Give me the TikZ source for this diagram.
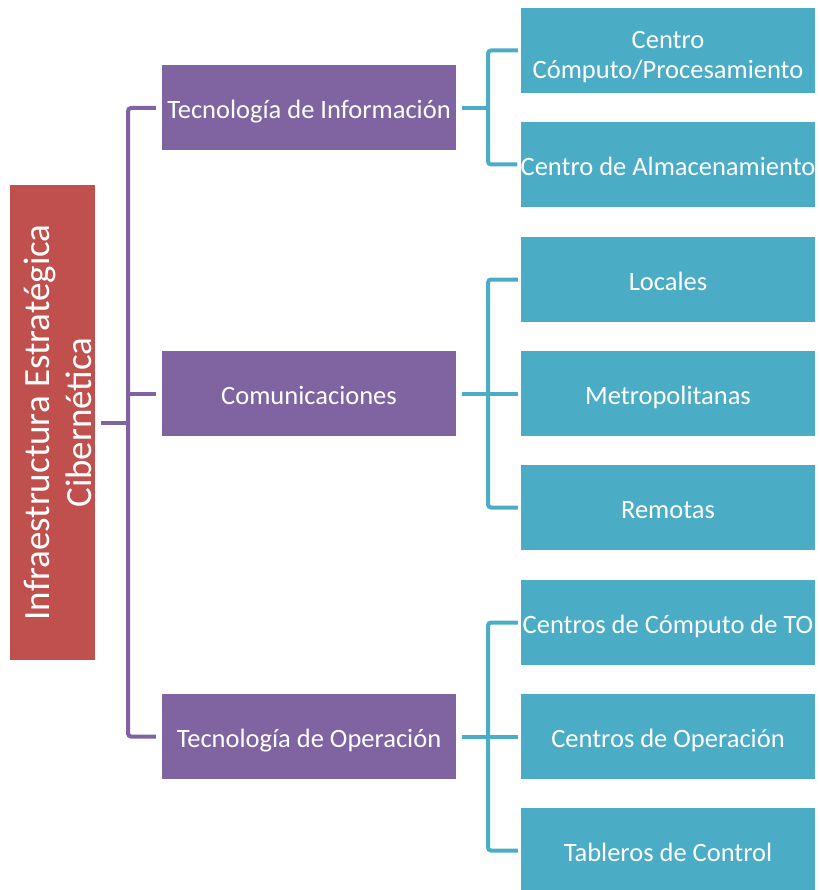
\documentclass[tikz,border=0pt]{standalone}
\usepackage{fontspec}
\setmainfont{Carlito}
\definecolor{rootred}{HTML}{C0504D}
\definecolor{purp}{HTML}{8064A2}
\definecolor{teal}{HTML}{4BACC6}
\begin{document}
\begin{tikzpicture}[x=1pt, y=-1pt,
  every node/.style={font=\fontsize{26.5}{30}\selectfont, text=white, inner sep=0pt, align=center},
  rootbox/.style={fill=rootred, minimum width=475pt, minimum height=85pt, rotate=90, font=\fontsize{37}{42}\selectfont},
  mid/.style={fill=purp, minimum width=294pt, minimum height=85pt, text height=26pt, text depth=4pt},
  leaf/.style={fill=teal, minimum width=294pt, minimum height=85pt, text height=26pt, text depth=4pt},
  pl/.style={draw=purp, line width=4pt, rounded corners=3pt},
  tl/.style={draw=teal, line width=4pt, rounded corners=3pt}]
\useasboundingbox (0,0) rectangle (819,890);
\node[rootbox] (root) at (52.5,422.5) {\rule{0pt}{37pt}Infraestructura Estratégica\\Cibernética};
\node[mid] (ti) at (309,108) {Tecnología de Información};
\node[mid] (com) at (309,393.5) {Comunicaciones};
\node[mid] (to) at (309,736.5) {Tecnología de Operación};
\node[leaf, text height=, text depth=] (cc) at (668,50.5) {\rule{0pt}{30pt}Centro\\Cómputo/Procesamiento};
\node[leaf] (ca) at (668,164.5) {Centro de Almacenamiento};
\node[leaf] (loc) at (668,279.5) {Locales};
\node[leaf] (met) at (668,393.5) {Metropolitanas};
\node[leaf] (rem) at (668,507.5) {Remotas};
\node[leaf] (cto) at (668,622.5) {Centros de Cómputo de TO};
\node[leaf] (cop) at (668,736.5) {Centros de Operación};
\node[leaf] (tab) at (668,850.5) {Tableros de Control};
% purple bus
\coordinate (pbus) at (128,422.5);
\draw[pl] ([xshift=6pt]root.south) -- (pbus);
\draw[pl] ([xshift=-6pt]ti.west) -| (pbus) |- ([xshift=-6pt]to.west);
\draw[pl] (pbus |- com.west) -- ([xshift=-6pt]com.west);
% teal buses
\coordinate (tb1) at (488,108);
\coordinate (tb2) at (488,393.5);
\coordinate (tb3) at (488,736.5);
\draw[tl] ([xshift=6pt]ti.east) -- (tb1);
\draw[tl] ([xshift=-3pt]cc.west) -| (tb1) |- ([xshift=-3pt]ca.west);
\draw[tl] ([xshift=6pt]com.east) -- ([xshift=-3pt]met.west);
\draw[tl] ([xshift=-3pt]loc.west) -| (tb2) |- ([xshift=-3pt]rem.west);
\draw[tl] ([xshift=6pt]to.east) -- ([xshift=-3pt]cop.west);
\draw[tl] ([xshift=-3pt]cto.west) -| (tb3) |- ([xshift=-3pt]tab.west);
\end{tikzpicture}
\end{document}
